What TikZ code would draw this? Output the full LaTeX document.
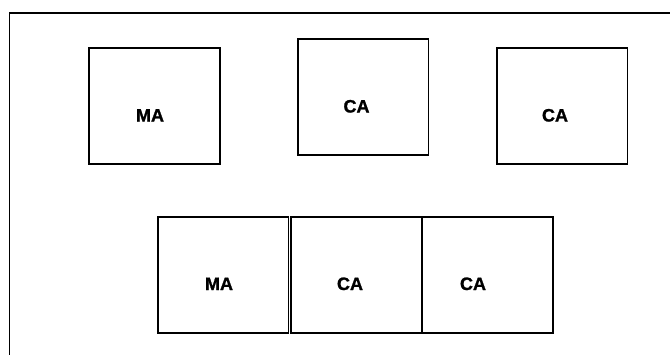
\documentclass[tikz,border=0pt]{standalone}
\usepackage{fontspec}
\setmainfont{Liberation Sans}
\newfontfamily\heavyfont[FakeBold=1.2]{Liberation Sans Bold}
\begin{document}
\begin{tikzpicture}[x=1pt,y=-1pt,
  box/.style={draw=black,line width=1.8pt,minimum width=130.8pt,minimum height=116pt,inner sep=0pt,fill=white},
  lbl/.style={anchor=base,inner sep=0pt,font=\heavyfont\fontsize{18}{20}\selectfont}]
\useasboundingbox (0,0) rectangle (670,354);
\fill[white] (0,0) rectangle (670,354);
\coordinate (fb) at (9.5,354);
\coordinate (ftl) at (9.5,12.7);
\coordinate (fr) at (670,12.7);
\draw[line width=1.8pt,line cap=rect] (fb) -- (ftl) -- (fr);
% top row
\node[box] (ma1) at (154.5,106) {};
\node[box] (ca1) at (363,97.3) {};
\node[box] (ca2) at (562,106) {};
% bottom row
\node[box] (ma2) at (223.1,275.3) {};
\node[box] (ca3) at (356.4,275.3) {};
\node[box] (ca4) at (487.2,275.3) {};
% labels
\node[lbl] (tma1) at (150,121.5) {MA};
\node[lbl] (tca1) at (356.5,112.5) {CA};
\node[lbl] (tca2) at (555,121.5) {CA};
\node[lbl] (tma2) at (219,290) {MA};
\node[lbl] (tca3) at (350,290) {CA};
\node[lbl] (tca4) at (473,290) {CA};
\end{tikzpicture}
\end{document}
